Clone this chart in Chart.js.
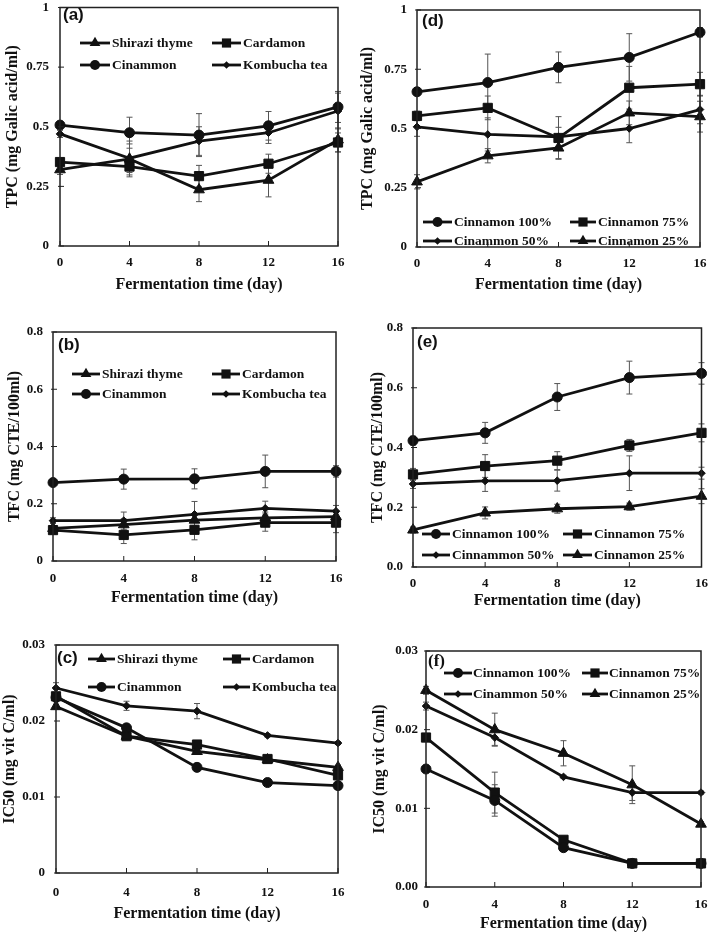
<!DOCTYPE html>
<html>
<head>
<meta charset="utf-8">
<script src="https://cdn.jsdelivr.net/npm/chart.js@4/dist/chart.umd.min.js"></script>
<style>
  body { margin: 0; background: #fff; }
  #page { position: relative; width: 709px; height: 934px; overflow: hidden; }
  .panel { position: absolute; }
</style>
</head>
<body>
<div id="page">
  <div class="panel" style="left:0;top:0;width:354px;height:300px"><canvas id="chartA"></canvas></div>
  <div class="panel" style="left:355px;top:0;width:354px;height:300px"><canvas id="chartD"></canvas></div>
  <div class="panel" style="left:0;top:300px;width:354px;height:310px"><canvas id="chartB"></canvas></div>
  <div class="panel" style="left:355px;top:300px;width:354px;height:310px"><canvas id="chartE"></canvas></div>
  <div class="panel" style="left:0;top:610px;width:354px;height:324px"><canvas id="chartC"></canvas></div>
  <div class="panel" style="left:355px;top:610px;width:354px;height:324px"><canvas id="chartF"></canvas></div>
</div>
<script>
// fermentation days (x axis)
const days = [0, 4, 8, 12, 16];

// series names
const herbNames = ['Shirazi thyme', 'Cardamon', 'Cinammon', 'Kombucha tea'];
const doseNamesD = ['Cinnamon 100%', 'Cinnamon 75%', 'Cinammon 50%', 'Cinnamon 25%'];
const doseNamesE = ['Cinnamon 100%', 'Cinnamon 75%', 'Cinnammon 50%', 'Cinnamon 25%'];
const doseNamesF = ['Cinnamon 100%', 'Cinnamon 75%', 'Cinammon 50%', 'Cinnamon 25%'];

// (a) TPC
const tpcThyme = [0.32, 0.365, 0.236, 0.276, 0.445];
const tpcThymeErr = [0.02, 0.075, 0.05, 0.07, 0.05];
const tpcCardamon = [0.352, 0.333, 0.293, 0.345, 0.434];
const tpcCardamonErr = [0.015, 0.035, 0.045, 0.04, 0.04];
const tpcCinnamon = [0.507, 0.475, 0.465, 0.504, 0.583];
const tpcCinnamonErr = [0.015, 0.065, 0.09, 0.06, 0.065];
const tpcKombucha = [0.47, 0.368, 0.44, 0.475, 0.566];
const tpcKombuchaErr = [0.015, 0.06, 0.06, 0.045, 0.075];

// (b) TFC
const tfcThyme = [0.114, 0.127, 0.143, 0.151, 0.155];
const tfcThymeErr = [0.02, 0.02, 0.02, 0.02, 0.02];
const tfcCardamon = [0.108, 0.091, 0.109, 0.134, 0.134];
const tfcCardamonErr = [0.01, 0.03, 0.035, 0.03, 0.035];
const tfcCinnamon = [0.274, 0.286, 0.287, 0.313, 0.313];
const tfcCinnamonErr = [0.01, 0.035, 0.035, 0.057, 0.02];
const tfcKombucha = [0.141, 0.141, 0.163, 0.184, 0.174];
const tfcKombuchaErr = [0.01, 0.03, 0.045, 0.025, 0.02];

// (c) IC50
const icThyme = [0.0219, 0.018, 0.016, 0.0149, 0.0139];
const icThymeErr = [0.0003, 0.0003, 0.0003, 0.0002, 0.0003];
const icCardamon = [0.02325, 0.018, 0.0169, 0.015, 0.01285];
const icCardamonErr = [0.0003, 0.0003, 0.0003, 0.0002, 0.0004];
const icCinnamon = [0.0231, 0.0191, 0.0139, 0.0119, 0.0115];
const icCinnamonErr = [0.0003, 0.0003, 0.0005, 0.0002, 0.0003];
const icKombucha = [0.02434, 0.022, 0.0213, 0.0181, 0.0171];
const icKombuchaErr = [0.0007, 0.0006, 0.001, 0.0002, 0.0002];

// (d) TPC, cinnamon doses
const tpc100 = [0.655, 0.694, 0.758, 0.8, 0.906];
const tpc100Err = [0.015, 0.12, 0.065, 0.1, 0.02];
const tpc75 = [0.553, 0.587, 0.46, 0.672, 0.687];
const tpc75Err = [0.02, 0.05, 0.09, 0.09, 0.05];
const tpc50 = [0.507, 0.475, 0.465, 0.5, 0.58];
const tpc50Err = [0.04, 0.07, 0.04, 0.06, 0.06];
const tpc25 = [0.275, 0.385, 0.418, 0.566, 0.55];
const tpc25Err = [0.03, 0.03, 0.045, 0.05, 0.065];

// (e) TFC, cinnamon doses
const tfc100 = [0.423, 0.449, 0.569, 0.634, 0.648];
const tfc100Err = [0.015, 0.035, 0.045, 0.055, 0.036];
const tfc75 = [0.31, 0.338, 0.356, 0.407, 0.449];
const tfc75Err = [0.02, 0.038, 0.03, 0.02, 0.03];
const tfc50 = [0.278, 0.288, 0.289, 0.314, 0.314];
const tfc50Err = [0.015, 0.035, 0.035, 0.058, 0.02];
const tfc25 = [0.124, 0.181, 0.195, 0.202, 0.237];
const tfc25Err = [0.01, 0.02, 0.015, 0.012, 0.025];

// (f) IC50, cinnamon doses
const ic100 = [0.015, 0.011, 0.005, 0.003, 0.003];
const ic100Err = [0.0003, 0.002, 0.0003, 0.0001, 0.0001];
const ic75 = [0.019, 0.012, 0.006, 0.003, 0.003];
const ic75Err = [0.0002, 0.0026, 0.0003, 0.0001, 0.0001];
const ic50 = [0.023, 0.019, 0.014, 0.012, 0.012];
const ic50Err = [0.0005, 0.001, 0.0002, 0.001, 0.0002];
const ic25 = [0.025, 0.020, 0.017, 0.013, 0.008];
const ic25Err = [0.0005, 0.0021, 0.0016, 0.0024, 0.0003];

// tick labels
const xTicks = ['0', '4', '8', '12', '16'];
const yTicksTPC = ['0', '0.25', '0.5', '0.75', '1'];
const yTicksTFCb = ['0', '0.2', '0.4', '0.6', '0.8'];
const yTicksTFCe = ['0.0', '0.2', '0.4', '0.6', '0.8'];
const yTicksICc = ['0', '0.01', '0.02', '0.03'];
const yTicksICf = ['0.00', '0.01', '0.02', '0.03'];

const SERIF = "'Liberation Serif', 'Times New Roman', serif";
const SANS = "'Liberation Sans', Arial, sans-serif";
const INK = '#111';

Chart.defaults.font.family = SERIF;
Chart.defaults.font.weight = 'bold';
Chart.defaults.color = INK;

const markerSize = { circle: 5, rect: 6.5, triangle: 6.2, rectRot: 3.8 };

function drawMarker(ctx, style, x, y, r) {
  ctx.beginPath();
  if (style == 'circle') {
    ctx.arc(x, y, r, 0, Math.PI * 2);
  } else if (style == 'rect') {
    let s = r * Math.SQRT1_2;
    ctx.rect(x - s, y - s, 2 * s, 2 * s);
  } else if (style == 'triangle') {
    let a = 0;
    ctx.moveTo(x + Math.sin(a) * r, y - Math.cos(a) * r);
    a += Math.PI * 2 / 3;
    ctx.lineTo(x + Math.sin(a) * r, y - Math.cos(a) * r);
    a += Math.PI * 2 / 3;
    ctx.lineTo(x + Math.sin(a) * r, y - Math.cos(a) * r);
    ctx.closePath();
  } else {
    ctx.moveTo(x - r, y);
    ctx.lineTo(x, y - r);
    ctx.lineTo(x + r, y);
    ctx.lineTo(x, y + r);
    ctx.closePath();
  }
  ctx.fill();
}

function series(name, values, errors, style) {
  return {
    label: name,
    data: days.map((d, i) => ({ x: d, y: values[i] })),
    errors: errors,
    borderColor: INK,
    backgroundColor: INK,
    borderWidth: 2.8,
    pointStyle: style,
    pointRadius: markerSize[style],
    pointBorderWidth: 1,
    tension: 0,
    clip: false
  };
}

const decor = {
  id: 'decor',
  beforeDatasetsDraw(chart) {
    const ctx = chart.ctx, xs = chart.scales.x, ys = chart.scales.y;
    ctx.save();
    ctx.strokeStyle = '#555';
    ctx.lineWidth = 1;
    chart.data.datasets.forEach(ds => {
      ds.data.forEach((p, i) => {
        let e = ds.errors[i];
        let px = xs.getPixelForValue(p.x);
        let y0 = ys.getPixelForValue(p.y - e);
        let y1 = ys.getPixelForValue(p.y + e);
        ctx.beginPath();
        ctx.moveTo(px, y0); ctx.lineTo(px, y1);
        ctx.moveTo(px - 3, y0); ctx.lineTo(px + 3, y0);
        ctx.moveTo(px - 3, y1); ctx.lineTo(px + 3, y1);
        ctx.stroke();
      });
    });
    ctx.restore();
  },
  afterDatasetsDraw(chart, args, o) {
    const ctx = chart.ctx, xs = chart.scales.x, ys = chart.scales.y;
    const { left, right, top, bottom } = chart.chartArea;
    ctx.save();
    // frame
    ctx.strokeStyle = '#222';
    ctx.lineWidth = 1.5;
    ctx.strokeRect(left, top, right - left, bottom - top);
    // inward tick marks
    ctx.lineWidth = 1;
    ctx.beginPath();
    xs.ticks.forEach(t => {
      let px = xs.getPixelForValue(t.value);
      ctx.moveTo(px, bottom); ctx.lineTo(px, bottom - 5);
    });
    ys.ticks.forEach(t => {
      let py = ys.getPixelForValue(t.value);
      ctx.moveTo(left - 2, py); ctx.lineTo(left + 4, py);
    });
    ctx.stroke();
    // panel tag
    ctx.fillStyle = INK;
    ctx.font = 'bold 17px ' + o.tagFont;
    ctx.textBaseline = 'middle';
    ctx.textAlign = 'left';
    ctx.fillText(o.tag, o.tagX, o.tagY);
    // legend, two rows by two columns
    ctx.font = 'bold 13.5px ' + SERIF;
    chart.data.datasets.forEach((ds, i) => {
      let col = o.cols[i % 2];
      let y = o.rows[Math.floor(i / 2)];
      ctx.strokeStyle = INK;
      ctx.lineWidth = 2.8;
      ctx.beginPath();
      ctx.moveTo(col[0], y); ctx.lineTo(col[1], y);
      ctx.stroke();
      drawMarker(ctx, ds.pointStyle, (col[0] + col[1]) / 2, y, ds.pointRadius);
      ctx.fillText(ds.label, col[2], y + 0.5);
    });
    ctx.restore();
  }
};

function make_chart(id, p) {
  const step = p.yStep;
  return new Chart(document.getElementById(id), {
    type: 'line',
    data: { datasets: p.datasets },
    options: {
      responsive: true,
      maintainAspectRatio: false,
      devicePixelRatio: 1,
      animation: false,
      events: [],
      layout: { padding: { left: 0, top: p.padTop, right: p.padRight, bottom: 0 } },
      scales: {
        x: {
          type: 'linear',
          min: 0, max: 16,
          grid: { display: false, drawTicks: false },
          border: { display: false },
          ticks: {
            stepSize: 4, autoSkip: false, maxRotation: 0, padding: p.xTickPad,
            font: { size: 13, weight: 'bold' },
            callback: (v) => xTicks[Math.round(v / 4)]
          },
          title: {
            display: true, text: 'Fermentation time (day)',
            font: { size: 16, weight: 'bold' },
            padding: { top: 0, bottom: p.xTitlePad }
          },
          afterFit: (s) => { s.height = p.xHeight; s.paddingLeft = 0; s.paddingRight = 0; }
        },
        y: {
          min: 0, max: p.yMax,
          grid: { display: false, drawTicks: false },
          border: { display: false },
          ticks: {
            stepSize: step, padding: p.yTickPad,
            font: { size: 13, weight: 'bold' },
            callback: (v) => p.yTicks[Math.round(v / step)]
          },
          title: {
            display: true, text: p.yTitle,
            font: { size: 16, weight: 'bold' },
            padding: { top: p.yTitlePad, bottom: 0 }
          },
          afterFit: (s) => { s.width = p.yWidth; s.paddingTop = 0; s.paddingBottom = 0; }
        }
      },
      plugins: {
        legend: { display: false },
        tooltip: { enabled: false },
        decor: { tag: p.tag, tagX: p.tagX, tagY: p.tagY, tagFont: p.tagFont || SANS, rows: p.rows, cols: p.cols }
      }
    },
    plugins: [decor]
  });
}

var chart_a = make_chart('chartA', {
  datasets: [
    series(herbNames[0], tpcThyme, tpcThymeErr, 'triangle'),
    series(herbNames[1], tpcCardamon, tpcCardamonErr, 'rect'),
    series(herbNames[2], tpcCinnamon, tpcCinnamonErr, 'circle'),
    series(herbNames[3], tpcKombucha, tpcKombuchaErr, 'rectRot')
  ],
  yMax: 1, yStep: 0.25, yTicks: yTicksTPC, yTitle: 'TPC (mg Galic acid/ml)',
  yWidth: 60, xHeight: 54, padTop: 4, padRight: 16,
  xTickPad: 9, yTickPad: 11, xTitlePad: 5.4, yTitlePad: 3.4,
  tag: '(a)', tagX: 63, tagY: 15,
  rows: [43, 65], cols: [[80, 110, 112], [212, 241, 243]]
});

var chart_d = make_chart('chartD', {
  datasets: [
    series(doseNamesD[0], tpc100, tpc100Err, 'circle'),
    series(doseNamesD[1], tpc75, tpc75Err, 'rect'),
    series(doseNamesD[2], tpc50, tpc50Err, 'rectRot'),
    series(doseNamesD[3], tpc25, tpc25Err, 'triangle')
  ],
  yMax: 1, yStep: 0.25, yTicks: yTicksTPC, yTitle: 'TPC (mg Galic acid/ml)',
  yWidth: 62, xHeight: 53, padTop: 10, padRight: 9,
  xTickPad: 9, yTickPad: 10, xTitlePad: 5.4, yTitlePad: 3.4,
  tag: '(d)', tagX: 67, tagY: 21,
  rows: [222, 241], cols: [[68, 97, 99], [215, 241, 243]]
});

var chart_b = make_chart('chartB', {
  datasets: [
    series(herbNames[0], tfcThyme, tfcThymeErr, 'triangle'),
    series(herbNames[1], tfcCardamon, tfcCardamonErr, 'rect'),
    series(herbNames[2], tfcCinnamon, tfcCinnamonErr, 'circle'),
    series(herbNames[3], tfcKombucha, tfcKombuchaErr, 'rectRot')
  ],
  yMax: 0.8, yStep: 0.2, yTicks: yTicksTFCb, yTitle: 'TFC (mg CTE/100ml)',
  yWidth: 53, xHeight: 49, padTop: 32, padRight: 18,
  xTickPad: 10, yTickPad: 10, xTitlePad: 2.4, yTitlePad: 5.4,
  tag: '(b)', tagX: 58, tagY: 45,
  rows: [74, 94], cols: [[72, 100, 102], [212, 240, 242]]
});

var chart_e = make_chart('chartE', {
  datasets: [
    series(doseNamesE[0], tfc100, tfc100Err, 'circle'),
    series(doseNamesE[1], tfc75, tfc75Err, 'rect'),
    series(doseNamesE[2], tfc50, tfc50Err, 'rectRot'),
    series(doseNamesE[3], tfc25, tfc25Err, 'triangle')
  ],
  yMax: 0.8, yStep: 0.2, yTicks: yTicksTFCe, yTitle: 'TFC (mg CTE/100ml)',
  yWidth: 58, xHeight: 43, padTop: 28, padRight: 6,
  xTickPad: 9, yTickPad: 10, xTitlePad: 0, yTitlePad: 13.4,
  tag: '(e)', tagX: 62, tagY: 42,
  rows: [234, 255], cols: [[67, 95, 97], [208, 237, 239]]
});

var chart_c = make_chart('chartC', {
  datasets: [
    series(herbNames[0], icThyme, icThymeErr, 'triangle'),
    series(herbNames[1], icCardamon, icCardamonErr, 'rect'),
    series(herbNames[2], icCinnamon, icCinnamonErr, 'circle'),
    series(herbNames[3], icKombucha, icKombuchaErr, 'rectRot')
  ],
  yMax: 0.03, yStep: 0.01, yTicks: yTicksICc, yTitle: 'IC50 (mg vit C/ml)',
  yWidth: 56, xHeight: 61, padTop: 35, padRight: 16,
  xTickPad: 12, yTickPad: 11, xTitlePad: 10.4, yTitlePad: 0.4,
  tag: '(c)', tagX: 57, tagY: 48,
  rows: [49, 77], cols: [[88, 115, 117], [223, 250, 252]]
});

var chart_f = make_chart('chartF', {
  datasets: [
    series(doseNamesF[0], ic100, ic100Err, 'circle'),
    series(doseNamesF[1], ic75, ic75Err, 'rect'),
    series(doseNamesF[2], ic50, ic50Err, 'rectRot'),
    series(doseNamesF[3], ic25, ic25Err, 'triangle')
  ],
  yMax: 0.03, yStep: 0.01, yTicks: yTicksICf, yTitle: 'IC50 (mg vit C/ml)',
  yWidth: 71, xHeight: 47, padTop: 41, padRight: 8,
  xTickPad: 10, yTickPad: 8, xTitlePad: 0.4, yTitlePad: 15.4,
  tag: '(f)', tagX: 73, tagY: 52, tagFont: SERIF,
  rows: [63, 84], cols: [[89, 117, 118], [227, 253, 254]]
});
</script>
</body>
</html>
